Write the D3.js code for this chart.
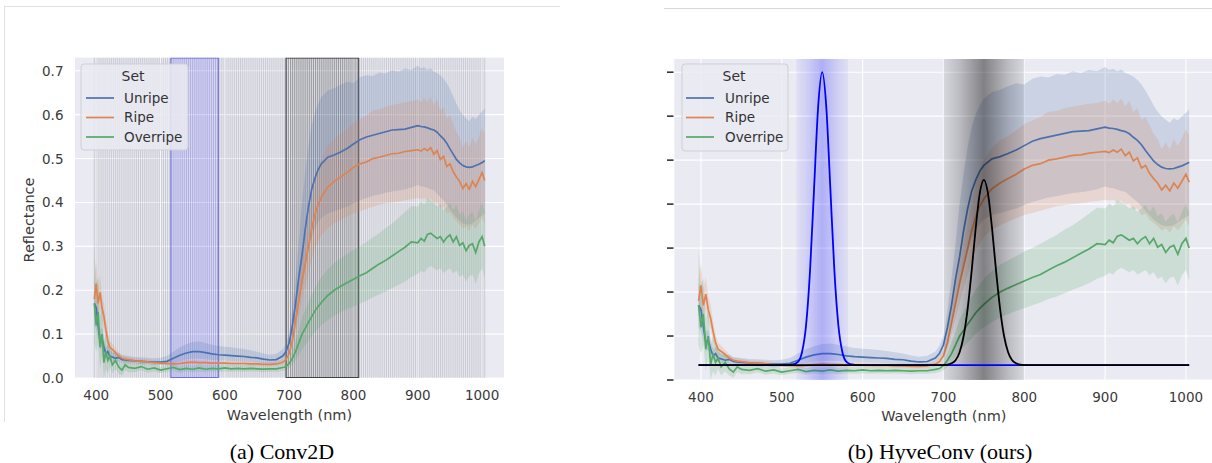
<!DOCTYPE html>
<html><head><meta charset="utf-8">
<script src="https://cdn.jsdelivr.net/npm/d3@7"></script>
<style>body{margin:0;background:#fff;} svg{display:block;font-family:"DejaVu Sans",sans-serif;}</style>
</head><body>
<svg id="c" width="1212" height="463"></svg>
<script>
// ---------------- DATA ----------------
const wavelengths = [397,400,403,406,409,412,415,418,421,425,430,435,440,445,450,460,470,480,490,500,510,520,530,540,550,560,570,580,590,600,610,620,630,640,650,660,670,680,690,695,700,705,710,715,720,725,730,735,740,745,750,760,770,780,790,800,810,820,830,840,850,860,870,880,890,900,905,910,915,920,925,930,935,940,945,950,955,960,965,970,975,980,985,990,995,1000,1004];

const unripeMean = [0.17,0.16,0.12,0.085,0.09,0.07,0.055,0.06,0.05,0.048,0.045,0.047,0.042,0.041,0.04,0.039,0.038,0.037,0.036,0.036,0.038,0.045,0.052,0.057,0.06,0.06,0.058,0.055,0.053,0.052,0.051,0.05,0.049,0.047,0.046,0.043,0.041,0.042,0.05,0.06,0.08,0.12,0.17,0.23,0.28,0.34,0.39,0.43,0.455,0.475,0.488,0.503,0.508,0.515,0.523,0.533,0.543,0.549,0.553,0.557,0.561,0.565,0.566,0.567,0.571,0.575,0.573,0.572,0.57,0.567,0.565,0.56,0.552,0.545,0.535,0.522,0.51,0.498,0.49,0.484,0.481,0.48,0.481,0.484,0.487,0.491,0.495];
const unripeLow = [0.12,0.11,0.09,0.065,0.07,0.055,0.045,0.048,0.04,0.038,0.036,0.038,0.034,0.033,0.033,0.032,0.031,0.03,0.029,0.029,0.03,0.034,0.038,0.042,0.044,0.044,0.043,0.041,0.04,0.04,0.039,0.039,0.038,0.037,0.036,0.034,0.033,0.034,0.04,0.048,0.062,0.09,0.13,0.17,0.21,0.25,0.29,0.32,0.34,0.355,0.365,0.375,0.38,0.385,0.39,0.398,0.405,0.41,0.415,0.418,0.422,0.425,0.427,0.43,0.434,0.44,0.437,0.436,0.433,0.43,0.428,0.42,0.412,0.405,0.395,0.385,0.375,0.365,0.358,0.352,0.35,0.35,0.352,0.358,0.365,0.37,0.375];
const unripeHigh = [0.22,0.21,0.16,0.11,0.115,0.09,0.07,0.075,0.063,0.06,0.056,0.058,0.052,0.051,0.05,0.048,0.047,0.046,0.045,0.046,0.05,0.06,0.07,0.077,0.082,0.083,0.08,0.076,0.073,0.071,0.07,0.068,0.066,0.063,0.06,0.056,0.053,0.055,0.065,0.078,0.1,0.16,0.23,0.31,0.4,0.47,0.53,0.575,0.605,0.625,0.64,0.655,0.66,0.668,0.675,0.672,0.685,0.69,0.688,0.696,0.694,0.702,0.698,0.705,0.702,0.712,0.705,0.708,0.702,0.706,0.698,0.695,0.69,0.682,0.672,0.658,0.642,0.625,0.61,0.6,0.592,0.585,0.595,0.59,0.6,0.608,0.615];

const ripeMean = [0.18,0.215,0.17,0.195,0.16,0.14,0.11,0.085,0.07,0.065,0.058,0.05,0.045,0.043,0.042,0.039,0.038,0.037,0.035,0.034,0.033,0.032,0.033,0.035,0.036,0.035,0.035,0.034,0.034,0.034,0.033,0.033,0.033,0.032,0.032,0.031,0.031,0.032,0.036,0.042,0.055,0.085,0.13,0.175,0.22,0.26,0.3,0.34,0.372,0.395,0.412,0.435,0.448,0.458,0.468,0.48,0.488,0.492,0.5,0.503,0.507,0.511,0.512,0.516,0.518,0.52,0.517,0.523,0.518,0.525,0.51,0.518,0.498,0.505,0.482,0.488,0.47,0.458,0.448,0.432,0.443,0.43,0.448,0.436,0.452,0.468,0.45];
const ripeLow = [0.14,0.17,0.14,0.16,0.13,0.115,0.09,0.07,0.058,0.055,0.049,0.043,0.039,0.037,0.036,0.034,0.033,0.032,0.031,0.03,0.029,0.028,0.029,0.03,0.031,0.031,0.03,0.03,0.03,0.03,0.029,0.029,0.029,0.028,0.028,0.027,0.027,0.028,0.031,0.036,0.045,0.07,0.105,0.14,0.175,0.21,0.24,0.27,0.295,0.31,0.325,0.342,0.352,0.36,0.368,0.375,0.38,0.385,0.39,0.395,0.398,0.4,0.402,0.405,0.407,0.41,0.408,0.41,0.405,0.408,0.398,0.4,0.388,0.39,0.375,0.378,0.365,0.357,0.35,0.34,0.345,0.335,0.35,0.34,0.352,0.365,0.35];
const ripeHigh = [0.23,0.265,0.21,0.235,0.19,0.17,0.135,0.105,0.085,0.078,0.068,0.058,0.052,0.05,0.048,0.045,0.044,0.043,0.04,0.039,0.038,0.037,0.038,0.041,0.042,0.04,0.04,0.039,0.039,0.039,0.038,0.038,0.038,0.037,0.037,0.036,0.036,0.037,0.042,0.05,0.066,0.1,0.155,0.21,0.265,0.315,0.36,0.41,0.45,0.48,0.5,0.528,0.545,0.555,0.568,0.582,0.59,0.598,0.61,0.612,0.618,0.622,0.625,0.628,0.63,0.635,0.628,0.638,0.63,0.64,0.622,0.635,0.61,0.618,0.592,0.598,0.58,0.56,0.548,0.525,0.54,0.525,0.548,0.532,0.55,0.57,0.555];

const overripeMean = [0.17,0.12,0.15,0.07,0.1,0.035,0.06,0.04,0.05,0.03,0.04,0.025,0.018,0.03,0.024,0.022,0.026,0.02,0.023,0.018,0.021,0.024,0.019,0.022,0.02,0.023,0.02,0.022,0.021,0.023,0.021,0.022,0.021,0.022,0.021,0.02,0.021,0.021,0.024,0.026,0.033,0.045,0.06,0.08,0.1,0.113,0.127,0.14,0.153,0.163,0.172,0.188,0.2,0.209,0.217,0.225,0.233,0.24,0.25,0.26,0.268,0.278,0.288,0.298,0.31,0.308,0.318,0.312,0.327,0.33,0.324,0.318,0.322,0.31,0.32,0.326,0.31,0.322,0.302,0.308,0.29,0.302,0.306,0.286,0.31,0.322,0.3];
const overripeLow = [0.08,0.06,0.08,0.02,0.05,0.0,0.02,0.01,0.025,0.01,0.02,0.01,0.005,0.018,0.013,0.013,0.017,0.012,0.015,0.011,0.014,0.016,0.012,0.015,0.013,0.015,0.013,0.015,0.014,0.015,0.014,0.015,0.014,0.015,0.014,0.013,0.014,0.014,0.016,0.018,0.022,0.03,0.04,0.053,0.065,0.075,0.085,0.095,0.105,0.113,0.12,0.132,0.142,0.15,0.157,0.163,0.17,0.176,0.184,0.19,0.197,0.205,0.212,0.22,0.23,0.237,0.244,0.24,0.25,0.255,0.25,0.245,0.25,0.24,0.245,0.25,0.238,0.245,0.23,0.235,0.22,0.232,0.235,0.215,0.238,0.25,0.225];
const overripeHigh = [0.3,0.22,0.23,0.14,0.16,0.08,0.1,0.075,0.08,0.055,0.062,0.042,0.033,0.043,0.036,0.032,0.036,0.029,0.032,0.026,0.029,0.033,0.027,0.03,0.028,0.031,0.028,0.03,0.029,0.031,0.029,0.03,0.029,0.03,0.029,0.028,0.029,0.029,0.033,0.036,0.046,0.062,0.085,0.11,0.138,0.155,0.172,0.19,0.205,0.218,0.23,0.248,0.262,0.272,0.282,0.292,0.3,0.31,0.32,0.33,0.342,0.352,0.365,0.378,0.392,0.39,0.402,0.395,0.408,0.405,0.398,0.39,0.395,0.382,0.39,0.398,0.382,0.395,0.372,0.38,0.36,0.372,0.378,0.358,0.382,0.4,0.38];

const seriesNames = ["Unripe","Ripe","Overripe"];
const xTicks = [400,500,600,700,800,900,1000];
const yTicks = [0,0.1,0.2,0.3,0.4,0.5,0.6,0.7];
const yTickLabels = ["0.0","0.1","0.2","0.3","0.4","0.5","0.6","0.7"];

// Conv2D panel: sensor bands and kernel boxes (nm)
const bandRange = [397, 1004];
const bandCount = 204;
const conv2dBlueBox = [516, 590];
const conv2dBlackBox = [695, 808];

// HyveConv panel: learned filters (nm, reflectance scale)
const blueFilterW = [397,505,510,515,520,525,530,535,540,545,550,555,560,565,570,575,580,585,590,595,1004];
const blueFilterV = [0.034,0.034,0.0345,0.036,0.041,0.063,0.124,0.25,0.438,0.622,0.70,0.622,0.438,0.25,0.124,0.063,0.041,0.036,0.0345,0.034,0.034];
const blackFilterW = [397,695,700,705,710,715,720,725,730,735,740,745,750,755,760,765,770,775,780,785,790,795,800,805,1004];
const blackFilterV = [0.034,0.034,0.034,0.035,0.038,0.045,0.063,0.100,0.163,0.250,0.347,0.425,0.455,0.425,0.347,0.250,0.163,0.100,0.063,0.045,0.038,0.035,0.034,0.034,0.034];
const blueGlow = [518, 550, 582];
const greyGlow = [700, 750, 800];

// ---------------- DRAW ----------------
const svg = d3.select("#c");
const colors = ["#4c72b0","#dd8452","#55a868"];
const seriesData = [
  [unripeMean, unripeLow, unripeHigh],
  [ripeMean, ripeLow, ripeHigh],
  [overripeMean, overripeLow, overripeHigh]
].map(([m,lo,hi]) => wavelengths.map((w,i)=>({w, m:m[i], lo:lo[i], hi:hi[i]})));

// paper frame lines
svg.append("line").attr("x1",4).attr("x2",560).attr("y1",6.5).attr("y2",6.5).attr("stroke","#e2e2e2");
svg.append("line").attr("x1",4.5).attr("x2",4.5).attr("y1",6.5).attr("y2",422).attr("stroke","#e2e2e2");
svg.append("line").attr("x1",664).attr("x2",1212).attr("y1",8.5).attr("y2",8.5).attr("stroke","#d8d8d8");

const TXT = "#3a3a3a";

function panel(cfg){
  const x = d3.scaleLinear().domain([367,1034]).range(cfg.xr);
  const y = d3.scaleLinear().domain([0,0.73]).range(cfg.yr);
  const g = svg.append("g");
  const clipId = "clip"+cfg.id;
  svg.append("clipPath").attr("id",clipId).append("rect")
    .attr("x",cfg.xr[0]).attr("y",cfg.yr[1]).attr("width",cfg.xr[1]-cfg.xr[0]).attr("height",cfg.yr[0]-cfg.yr[1]);
  g.append("rect").attr("x",cfg.xr[0]).attr("y",cfg.yr[1]).attr("width",cfg.xr[1]-cfg.xr[0]).attr("height",cfg.yr[0]-cfg.yr[1]).attr("fill","#eaeaf2");
  const pg = g.append("g").attr("clip-path",`url(#${clipId})`);
  pg.selectAll(".gx").data(xTicks).enter().append("line")
    .attr("x1",d=>x(d)).attr("x2",d=>x(d)).attr("y1",cfg.yr[0]).attr("y2",cfg.yr[1]).attr("stroke","#fff").attr("stroke-width",1.1);
  pg.selectAll(".gy").data(yTicks).enter().append("line")
    .attr("x1",cfg.xr[0]).attr("x2",cfg.xr[1]).attr("y1",d=>y(d)).attr("y2",d=>y(d)).attr("stroke","#fff").attr("stroke-width",1.1);
  return {x,y,g,pg};
}

function drawSpectra(pg,x,y){
  seriesData.forEach((d,i)=>{
    pg.append("path").datum(d).attr("fill",colors[i]).attr("fill-opacity",0.2)
      .attr("d",d3.area().x(p=>x(p.w)).y0(p=>y(p.lo)).y1(p=>y(p.hi)));
  });
  seriesData.forEach((d,i)=>{
    pg.append("path").datum(d).attr("fill","none").attr("stroke",colors[i]).attr("stroke-width",1.7)
      .attr("d",d3.line().x(p=>x(p.w)).y(p=>y(p.m)));
  });
}

function axes(g,x,y,cfg){
  g.selectAll(".xt").data(xTicks).enter().append("text")
    .attr("x",d=>x(d)).attr("y",cfg.xtY).attr("text-anchor","middle").attr("font-size",13.5).attr("fill",TXT).text(d=>d);
  g.append("text").attr("x",(cfg.xr[0]+cfg.xr[1])/2).attr("y",cfg.xlabY).attr("text-anchor","middle")
    .attr("font-size",14.5).attr("fill",TXT).text("Wavelength (nm)");
}

function legend(g,c){
  const lg = g.append("g");
  lg.append("rect").attr("x",c.x).attr("y",c.y).attr("width",c.w).attr("height",c.h).attr("rx",3)
    .attr("fill","#eaeaf2").attr("fill-opacity",0.85).attr("stroke","#cfcfd6");
  lg.append("text").attr("x",c.titleX).attr("y",c.y+17).attr("text-anchor","middle").attr("font-size",14).attr("fill","#333").text("Set");
  seriesNames.forEach((n,i)=>{
    const yy = c.y+34+i*19.5;
    lg.append("line").attr("x1",c.lx1).attr("x2",c.lx2).attr("y1",yy).attr("y2",yy).attr("stroke",colors[i]).attr("stroke-width",1.7);
    lg.append("text").attr("x",c.tx).attr("y",yy+4.8).attr("font-size",13.5).attr("fill","#333").text(n);
  });
}

// ---- Panel (a) ----
{
  const cfg = {id:"a", xr:[75,504], yr:[378,57.6], xtY:400, xlabY:419.5};
  const {x,y,g,pg} = panel(cfg);
  const step = (bandRange[1]-bandRange[0])/(bandCount-1);
  const bands = d3.range(bandCount).map(i=>bandRange[0]+i*step);
  const inBox = (w,b)=> w>=b[0] && w<=b[1];
  pg.selectAll(".band").data(bands).enter().append("line")
    .attr("x1",d=>x(d)).attr("x2",d=>x(d)).attr("y1",y(0)).attr("y2",cfg.yr[1])
    .attr("stroke",d=> inBox(d,conv2dBlackBox) ? "#000" : inBox(d,conv2dBlueBox) ? "#3c3cc8" : "#6f6f78")
    .attr("stroke-opacity",d=> inBox(d,conv2dBlackBox) ? 0.42 : inBox(d,conv2dBlueBox) ? 0.38 : 0.34)
    .attr("stroke-width",0.75);
  pg.append("rect").attr("x",x(conv2dBlueBox[0])).attr("width",x(conv2dBlueBox[1])-x(conv2dBlueBox[0]))
    .attr("y",cfg.yr[1]+0.5).attr("height",y(0)-cfg.yr[1]-1)
    .attr("fill","#5050e0").attr("fill-opacity",0.1).attr("stroke","#5a5ad8").attr("stroke-opacity",0.8).attr("stroke-width",1);
  pg.append("rect").attr("x",x(conv2dBlackBox[0])).attr("width",x(conv2dBlackBox[1])-x(conv2dBlackBox[0]))
    .attr("y",cfg.yr[1]+0.5).attr("height",y(0)-cfg.yr[1]-1)
    .attr("fill","#000").attr("fill-opacity",0.05).attr("stroke","#222").attr("stroke-opacity",0.8).attr("stroke-width",1);
  drawSpectra(pg,x,y);
  g.selectAll(".yt").data(yTicks).enter().append("text")
    .attr("x",63.5).attr("y",d=>y(d)+5).attr("text-anchor","end").attr("font-size",13.5).attr("fill",TXT)
    .text((d,i)=>yTickLabels[i]);
  g.append("text").attr("transform","translate(34,220) rotate(-90)").attr("text-anchor","middle")
    .attr("font-size",14.5).attr("fill",TXT).text("Reflectance");
  axes(g,x,y,cfg);
  legend(g,{x:81,y:64,w:107,h:86,titleX:133,lx1:86,lx2:114,tx:124});
}

// ---- Panel (b) ----
{
  const cfg = {id:"b", xr:[674.3,1213.4], yr:[380,59], xtY:402, xlabY:420.5};
  const {x,y,g,pg} = panel(cfg);
  drawSpectra(pg,x,y);
  const defs = svg.append("defs");
  function glow(id, span, rgb, peak){
    const gr = defs.append("linearGradient").attr("id",id).attr("gradientUnits","userSpaceOnUse")
      .attr("x1",x(span[0])).attr("x2",x(span[2])).attr("y1",0).attr("y2",0);
    const stops = [[0,0.18],[0.2,0.45],[0.5,1],[0.8,0.45],[1,0.18]];
    stops.forEach(([o,a])=> gr.append("stop").attr("offset",o).attr("stop-color",rgb).attr("stop-opacity",a*peak));
    pg.append("rect").attr("x",x(span[0])).attr("width",x(span[2])-x(span[0]))
      .attr("y",cfg.yr[1]).attr("height",cfg.yr[0]-cfg.yr[1]).attr("fill",`url(#${id})`);
  }
  glow("gBlue", blueGlow, "#3232ff", 0.32);
  glow("gGrey", greyGlow, "#000000", 0.45);
  const fl = d3.line().x(d=>x(d[0])).y(d=>y(d[1])).curve(d3.curveMonotoneX);
  pg.append("path").attr("d",fl(blueFilterW.map((w,i)=>[w,blueFilterV[i]]))).attr("fill","none").attr("stroke","#0000ff").attr("stroke-width",1.8);
  pg.append("path").attr("d",fl(blackFilterW.map((w,i)=>[w,blackFilterV[i]]))).attr("fill","none").attr("stroke","#000").attr("stroke-width",1.8);
  g.selectAll(".ytk").data(yTicks).enter().append("line")
    .attr("x1",667).attr("x2",673.5).attr("y1",d=>y(d)).attr("y2",d=>y(d)).attr("stroke","#333").attr("stroke-width",1.6);
  axes(g,x,y,cfg);
  legend(g,{x:682,y:64,w:106,h:87,titleX:734,lx1:686,lx2:714,tx:725});
}

// captions
svg.append("text").attr("x",282).attr("y",459).attr("text-anchor","middle").attr("font-family","'Liberation Serif',serif").attr("font-size",22).attr("fill","#000").text("(a) Conv2D");
svg.append("text").attr("x",940).attr("y",459).attr("text-anchor","middle").attr("font-family","'Liberation Serif',serif").attr("font-size",22).attr("fill","#000").text("(b) HyveConv (ours)");
</script>
</body></html>
